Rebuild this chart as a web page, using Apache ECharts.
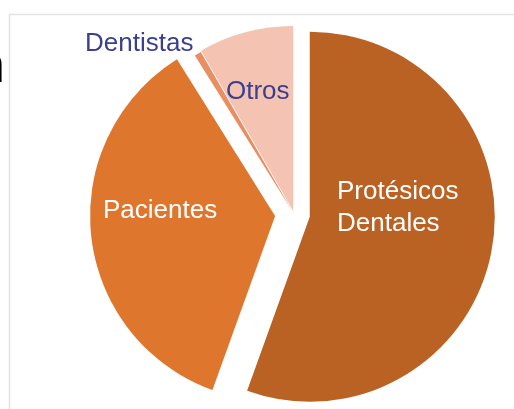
<!DOCTYPE html>
<html>
<head>
<meta charset="utf-8">
<script src="https://cdn.jsdelivr.net/npm/echarts@6/dist/echarts.min.js"></script>
<style>
  html, body { margin: 0; padding: 0; background: #fff; }
  #main { width: 514px; height: 409px; }
</style>
</head>
<body>
<div id="main"></div>
<script>
// slices, clockwise from 12 o'clock
const categories = ['Protésicos\nDentales', 'Pacientes', 'Dentistas', 'Otros'];
const values = [55.5, 35.6, 0.6, 8.3];
const colors = ['#BA6223', '#DE762E', '#E98E62', '#F4C3B2'];
const explode = [16, 19, 2, 3]; // px each slice is pulled out
const labelColors = ['#ffffff', '#ffffff', '#3B3F8F', '#3B3F8F'];
const labelSpots = [[337, 208], [103, 211], [85, 44], [226, 92]];

const cx = 294, cy = 214, R = 185;
const total = values.reduce((a, b) => a + b, 0);

const chart = echarts.init(document.getElementById('main'), null, { renderer: 'canvas' });

// one series per slice so every slice can get its own explosion
let acc = 0;
const series = values.map((v, i) => {
  const mid = (acc + v / 2) / total * 2 * Math.PI;
  acc += v;
  const dx = explode[i] * Math.sin(mid);
  const dy = -explode[i] * Math.cos(mid);
  return {
    type: 'pie',
    center: [cx + dx, cy + dy],
    radius: R,
    startAngle: 90,
    clockwise: true,
    silent: true,
    animation: false,
    labelLine: { show: false },
    data: categories.map((name, j) => ({
      name: name,
      value: values[j],
      itemStyle: { color: j === i ? colors[j] : 'rgba(0,0,0,0)' },
      label: {
        show: j === i,
        position: 'inside',
        color: labelColors[j],
        fontSize: 26,
        lineHeight: 32,
        fontFamily: 'Liberation Sans, Arial, sans-serif',
        formatter: '{b}',
        align: 'left'
      }
    })),
    labelLayout: {
      x: labelSpots[i][0],
      y: labelSpots[i][1],
      align: 'left',
      verticalAlign: 'middle'
    }
  };
});

chart.setOption({
  backgroundColor: '#ffffff',
  graphic: [
    {
      type: 'polyline',
      shape: { points: [[9.5, 409], [9.5, 14.5], [514, 14.5]] },
      style: { stroke: '#e3e3e3', lineWidth: 1.5, fill: null },
      z: -1
    },
    {
      // leftover glyph of a cut-off title at the left edge
      type: 'text',
      x: -23, y: 43,
      style: {
        text: 'n', fill: '#000',
        font: '50px Liberation Sans, Arial, sans-serif',
        textVerticalAlign: 'top'
      }
    }
  ],
  series: series
});
</script>
</body>
</html>
